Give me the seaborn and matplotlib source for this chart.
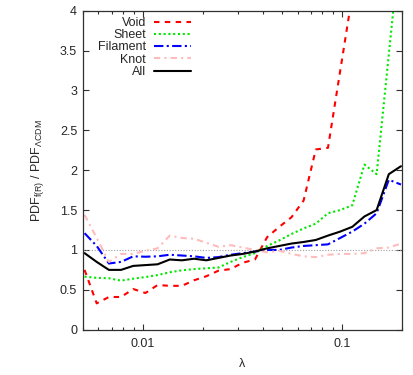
import numpy as np
import pandas as pd
import matplotlib
matplotlib.use('Agg')
import matplotlib.pyplot as plt
import seaborn as sns
from matplotlib.ticker import FixedLocator, LogLocator, NullFormatter, FuncFormatter, MultipleLocator

# lambda bin centres (log-spaced)
lam = [0.00511, 0.00588, 0.00677, 0.00779, 0.00897, 0.01033, 0.01189, 0.01369,
       0.01575, 0.01814, 0.02088, 0.02403, 0.02766, 0.03184, 0.03665, 0.04219,
       0.04857, 0.05591, 0.06435, 0.07408, 0.08527, 0.09815, 0.11298, 0.13004,
       0.14970, 0.17233, 0.19836]

void = [0.75, 0.33, 0.41, 0.41, 0.51, 0.46, 0.56, 0.55, 0.55, 0.62, 0.67, 0.74,
        0.76, 0.84, 0.88, 1.16, 1.29, 1.41, 1.62, 2.26, 2.28, 3.24, 4.2, 4.9,
        5.5, 6.0, 6.5]
sheet = [0.665, 0.65, 0.645, 0.615, 0.64, 0.66, 0.685, 0.72, 0.745, 0.76, 0.77, 0.78,
         0.85, 0.91, 0.96, 1.05, 1.12, 1.20, 1.27, 1.33, 1.46, 1.50, 1.56, 2.07,
         1.95, 3.45, 4.95]
filament = [1.21, 1.05, 0.83, 0.85, 0.92, 0.915, 0.92, 0.94, 0.93, 0.92, 0.90, 0.91,
            0.94, 0.96, 0.98, 1.0, 1.0, 1.03, 1.05, 1.06, 1.07, 1.15, 1.23, 1.33,
            1.46, 1.88, 1.82]
knot = [1.44, 1.15, 0.85, 0.95, 0.95, 0.99, 1.02, 1.18, 1.15, 1.14, 1.09, 1.04,
        1.06, 1.03, 1.0, 0.97, 0.99, 0.95, 0.92, 0.91, 0.94, 0.95, 0.95, 0.96,
        1.02, 1.03, 1.08]
alls = [0.96, 0.85, 0.75, 0.75, 0.80, 0.81, 0.82, 0.88, 0.87, 0.89, 0.87, 0.90,
        0.93, 0.95, 0.98, 1.02, 1.05, 1.08, 1.10, 1.125, 1.18, 1.23, 1.29, 1.42,
        1.50, 1.95, 2.05]

labels = ['Void', 'Sheet', 'Filament', 'Knot', 'All']
series = [void, sheet, filament, knot, alls]
colors = ['#ff0000', '#00e800', '#0000ff', '#ffbcbc', '#000000']
styles = [(0, (2.6, 2.6)), (0, (1.0, 1.3)), (0, (4.5, 1.6, 1.0, 1.6)),
          (0, (3.0, 2.0, 1.0, 2.0)), '-']

sns.set_theme(style='ticks')
plt.rcParams['font.family'] = ['Liberation Sans', 'DejaVu Sans']
plt.rcParams['mathtext.fontset'] = 'custom'
plt.rcParams['mathtext.rm'] = 'Liberation Sans'
plt.rcParams['mathtext.it'] = 'Liberation Sans:italic'
plt.rcParams['mathtext.bf'] = 'Liberation Sans:bold'

fs = 9
fig = plt.figure(figsize=(4.13, 3.75), dpi=100)
ax = fig.add_axes([0.2002, 0.1208, 0.7724, 0.8507])

ax.axhline(1.0, color='#a0a0a0', lw=0.8, ls=(0, (1, 1.5)), zorder=1)

for lab, vals, c, st in zip(labels, series, colors, styles):
    df = pd.DataFrame({'lam': lam, 'val': vals})
    sns.lineplot(data=df, x='lam', y='val', ax=ax, color=c, linestyle=st,
                 lw=1.5, label=lab, legend=False, errorbar=None)

ax.set_xscale('log')
ax.set_xlim(0.005, 0.2)
ax.set_ylim(0, 4)
ax.xaxis.set_major_locator(FixedLocator([0.01, 0.1]))
ax.xaxis.set_major_formatter(FuncFormatter(lambda v, p: '%g' % v))
ax.xaxis.set_minor_locator(LogLocator(base=10, subs=np.arange(2, 10)))
ax.xaxis.set_minor_formatter(NullFormatter())
ax.yaxis.set_major_locator(MultipleLocator(0.5))
ax.yaxis.set_major_formatter(FuncFormatter(lambda v, p: '%g' % v))

ax.tick_params(which='both', direction='in', top=True, right=True, labelsize=fs,
               color='#303030', width=0.8)
ax.tick_params(which='major', length=4.5)
ax.tick_params(axis='y', which='major', pad=4)
ax.tick_params(axis='x', which='major', pad=6)
ax.tick_params(which='minor', length=2.5)
for s in ax.spines.values():
    s.set_color('#303030')
    s.set_linewidth(0.9)

ax.set_xlabel('λ', fontsize=fs, labelpad=6)
ax.set_ylabel(r'PDF$_{\mathrm{f(R)}}$ / PDF$_{\mathrm{\Lambda CDM}}$', fontsize=fs, labelpad=10)

handles, labs = ax.get_legend_handles_labels()
leg = ax.legend(handles, labs, loc='upper right', bbox_to_anchor=(191 / 413, 1 - 17 / 375),
                bbox_transform=fig.transFigure, frameon=False, markerfirst=False,
                fontsize=fs, handlelength=3.0, handletextpad=0.6, labelspacing=0.02,
                borderpad=0, borderaxespad=0)
for t in leg.get_texts():
    t.set_ha('right')
leg._legend_box.align = 'right'

fig.savefig('out.png', dpi=100)
